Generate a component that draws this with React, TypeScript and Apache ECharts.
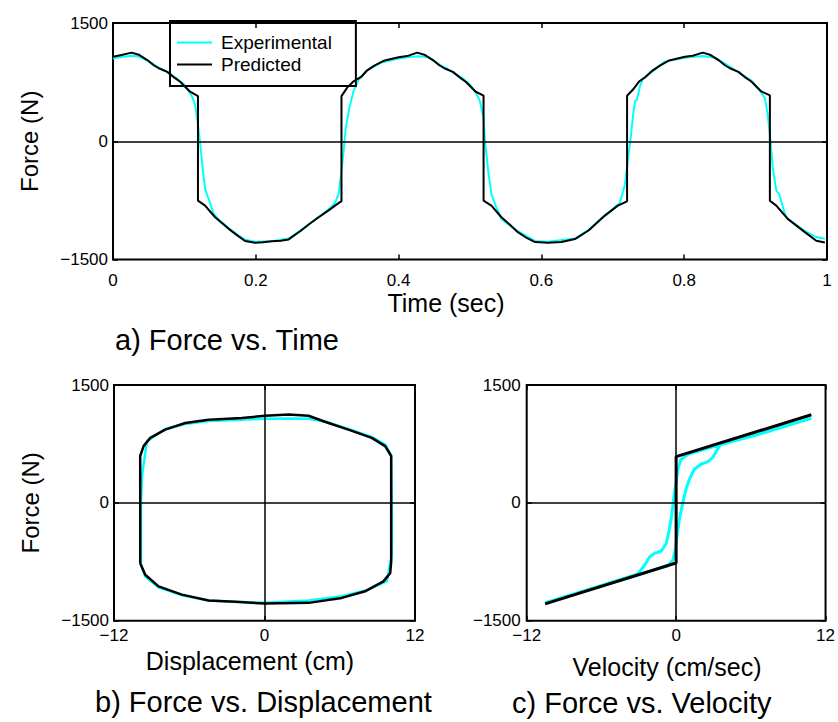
import React, { useEffect, useRef } from "react";
import * as echarts from "echarts";

const FONT = '"Liberation Sans", Arial, Helvetica, sans-serif';

// ---- a) Force vs. Time ----
const predTime = [0, 0.012, 0.026, 0.036, 0.048, 0.057, 0.064, 0.076, 0.087, 0.094, 0.108, 0.119, 0.119, 0.129, 0.143, 0.162, 0.175, 0.185, 0.199, 0.21, 0.222, 0.235, 0.246, 0.263, 0.275, 0.288, 0.3, 0.311, 0.32, 0.32, 0.328, 0.337, 0.348, 0.356, 0.366, 0.379, 0.4, 0.412, 0.426, 0.436, 0.448, 0.457, 0.464, 0.476, 0.487, 0.494, 0.508, 0.519, 0.519, 0.53, 0.544, 0.556, 0.567, 0.58, 0.591, 0.609, 0.628, 0.647, 0.666, 0.689, 0.707, 0.72, 0.72, 0.728, 0.737, 0.745, 0.756, 0.766, 0.779, 0.801, 0.812, 0.826, 0.836, 0.848, 0.857, 0.864, 0.876, 0.887, 0.894, 0.908, 0.92, 0.92, 0.929, 0.945, 0.969, 0.985, 0.997];
const predForceT = [1073, 1095, 1124, 1098, 1030, 964, 926, 880, 800, 754, 628, 573, -754, -817, -964, -1111, -1200, -1266, -1287, -1280, -1268, -1262, -1245, -1136, -1050, -964, -890, -817, -760, 573, 680, 760, 821, 900, 960, 1020, 1065, 1080, 1124, 1098, 1030, 964, 926, 880, 800, 754, 628, 578, -754, -817, -964, -1060, -1153, -1230, -1279, -1287, -1278, -1241, -1132, -943, -817, -762, 578, 653, 760, 809, 900, 960, 1025, 1073, 1085, 1124, 1098, 1030, 964, 926, 880, 800, 758, 632, 582, -754, -817, -985, -1153, -1262, -1283];

const expTime = [0, 0.012, 0.026, 0.036, 0.048, 0.057, 0.064, 0.076, 0.087, 0.094, 0.1, 0.106, 0.111, 0.115, 0.119, 0.122, 0.125, 0.129, 0.134, 0.141, 0.15, 0.162, 0.175, 0.185, 0.199, 0.222, 0.246, 0.263, 0.288, 0.305, 0.311, 0.316, 0.319, 0.323, 0.326, 0.331, 0.337, 0.344, 0.356, 0.376, 0.4, 0.415, 0.428, 0.442, 0.457, 0.465, 0.488, 0.5, 0.508, 0.514, 0.519, 0.521, 0.526, 0.53, 0.537, 0.544, 0.556, 0.567, 0.591, 0.609, 0.647, 0.666, 0.689, 0.7, 0.71, 0.717, 0.7215, 0.725, 0.7285, 0.731, 0.734, 0.738, 0.7425, 0.756, 0.773, 0.801, 0.826, 0.843, 0.866, 0.894, 0.906, 0.913, 0.917, 0.921, 0.924, 0.929, 0.933, 0.941, 0.945, 0.969, 0.985, 0.997];
const expForceT = [1052, 1070, 1085, 1075, 1025, 975, 935, 880, 810, 760, 715, 640, 560, 464, 212, -19, -292, -607, -733, -922, -1010, -1100, -1190, -1250, -1275, -1268, -1235, -1130, -960, -840, -780, -670, -460, -124, 170, 422, 640, 780, 900, 1000, 1050, 1070, 1078, 1065, 975, 935, 810, 720, 620, 506, 296, 0, -418, -670, -838, -985, -1070, -1140, -1265, -1275, -1235, -1125, -935, -860, -780, -544, -208, 44, 338, 506, 531, 695, 800, 890, 1010, 1060, 1080, 1060, 935, 770, 640, 548, 338, 0, -334, -627, -670, -922, -985, -1140, -1215, -1237];

// ---- b) Force vs. Displacement ----
const predDisp = [-9.91, -9.91, -9.64, -9.11, -7.92, -6.32, -4.46, -1.81, 0.05, 1.91, 3.51, 5.1, 6.69, 8.55, 9.62, 10.1, 10.1, 10.02, 9.48, 8.02, 6.16, 3.51, 0.05, -2.34, -4.46, -6.59, -8.45, -9.51, -9.91];
const predForceD = [-769, 596, 722, 827, 932, 1016, 1058, 1079, 1109, 1126, 1109, 1016, 932, 827, 722, 596, -756, -895, -1000, -1126, -1210, -1273, -1281, -1260, -1243, -1168, -1063, -916, -769];
const expDisp = [-9.85, -9.85, -9.77, -9.37, -7.92, -6.32, -4.46, -1.81, 0.05, 1.91, 3.51, 5.1, 6.69, 8.55, 9.62, 10.1, 10.15, 10.15, 9.75, 8.02, 6.16, 3.51, 0.05, -2.34, -4.46, -6.59, -8.45, -9.51, -9.85];
const expForceD = [-790, 0, 344, 785, 941, 1004, 1042, 1058, 1071, 1075, 1071, 1025, 941, 840, 743, 605, 0, -664, -1000, -1117, -1189, -1243, -1273, -1260, -1243, -1176, -1075, -937, -790];

// ---- c) Force vs. Velocity ----
const predVel = [-10.52, -0.08, 0, 0, 10.86];
const predForceV = [-1285, -769, -769, 588, 1121];
const expVel = [10.86, 8.88, 6.23, 3.58, 2.0, 1.0, 0.4, 0.13, 0, -0.13, -0.24, -0.4, -0.58, -0.8, -1.19, -1.72, -2.12, -2.52, -2.92, -3.18, -6.95, -10.52, -6.95, -3.18, -1.72, -0.66, -0.26, -0.08, 0.08, 0.27, 0.53, 0.8, 1.07, 1.46, 1.99, 2.52, 2.92, 3.32, 3.58, 6.23, 8.88, 10.86];
const expForceV = [1075, 980, 852, 743, 670, 620, 554, 428, 260, 134, 0, -202, -370, -517, -613, -643, -685, -790, -874, -912, -1100, -1272, -1105, -925, -853, -800, -727, -601, -412, -202, 0, 176, 302, 428, 491, 521, 575, 680, 743, 858, 982, 1078];

const timeTicks = { min: 0, max: 1, interval: 0.2 };
const forceTicks = { min: -1500, max: 1500, interval: 1500 };
const sideTicks = { min: -12, max: 12, interval: 12 };

const zip = (xs: number[], ys: number[]) => xs.map((x, i) => [x, ys[i]]);
const minus = (v: number) => String(v).replace("-", "\u2212");

const CYAN = "#00FFFF";
const BLACK = "#000000";

const grids = [
  { left: 113, top: 23, width: 714, height: 236.5 },
  { left: 114, top: 385, width: 301, height: 235.7 },
  { left: 526.7, top: 385, width: 301.3, height: 235.7 },
];

function tickAxis(gridIndex: number, ticks: any, position: string, showLabel: boolean, labelMargin: number, extra: any = {}) {
  return {
    gridIndex,
    type: "value",
    position,
    min: ticks.min,
    max: ticks.max,
    interval: ticks.interval,
    axisLine: { show: false, onZero: false },
    axisTick: { show: true, inside: true, length: 5, lineStyle: { color: BLACK, width: 1.5 } },
    axisLabel: {
      show: showLabel,
      fontFamily: FONT,
      fontSize: 17,
      color: BLACK,
      margin: labelMargin,
      formatter: minus,
    },
    splitLine: { show: false },
    ...extra,
  };
}

export default function App() {
  const ref = useRef<HTMLDivElement>(null);
  useEffect(() => {
    if (!ref.current) return;
    const chart = echarts.init(ref.current, null, { renderer: "svg" });
    const yName = {
      name: "Force (N)",
      nameLocation: "middle",
      nameGap: 72,
      nameTextStyle: { fontFamily: FONT, fontSize: 24, color: BLACK },
    };
    const zeroLines = (data: any[]) => ({
      silent: true,
      symbol: ["none", "none"],
      label: { show: false },
      lineStyle: { color: BLACK, width: 1.5, type: "solid" },
      data,
    });
    const lineSeries = (name: string, color: string, width: number, axis: number, data: number[][], z: number, markLine?: any) => ({
      type: "line",
      name,
      xAxisIndex: axis,
      yAxisIndex: axis,
      data,
      color,
      symbol: "none",
      showSymbol: false,
      lineStyle: { color, width },
      z,
      ...(markLine ? { markLine } : {}),
    });
    const option: any = {
      animation: false,
      backgroundColor: "#ffffff",
      grid: grids.map((g) => ({ ...g, show: true, borderColor: BLACK, borderWidth: 2, backgroundColor: "transparent" })),
      xAxis: [
        tickAxis(0, timeTicks, "bottom", true, 12),
        tickAxis(0, timeTicks, "top", false, 8),
        tickAxis(1, sideTicks, "bottom", true, 6),
        tickAxis(1, sideTicks, "top", false, 8),
        tickAxis(2, sideTicks, "bottom", true, 6),
        tickAxis(2, sideTicks, "top", false, 8),
      ],
      yAxis: [
        tickAxis(0, forceTicks, "left", true, 5, yName),
        tickAxis(0, forceTicks, "right", false, 8),
        tickAxis(1, forceTicks, "left", true, 5, yName),
        tickAxis(1, forceTicks, "right", false, 8),
        tickAxis(2, forceTicks, "left", true, 6),
        tickAxis(2, forceTicks, "right", false, 8),
      ],
      legend: {
        left: 170,
        top: 21,
        orient: "vertical",
        borderColor: BLACK,
        borderWidth: 2,
        borderRadius: 0,
        padding: [12, 24, 12, 7],
        itemGap: 3,
        itemWidth: 35,
        itemHeight: 2,
        icon: "rect",
        selectedMode: false,
        textStyle: { fontFamily: FONT, fontSize: 19, color: BLACK, padding: [0, 0, 0, 4] },
        data: ["Experimental", "Predicted"],
      },
      graphic: [
        { type: "text", x: 446, y: 303, style: { text: "Time (sec)", font: `25px ${FONT}`, fill: BLACK, textAlign: "center", textVerticalAlign: "middle" } },
        { type: "text", x: 115, y: 340, style: { text: "a) Force vs. Time", font: `29px ${FONT}`, fill: BLACK, textAlign: "left", textVerticalAlign: "middle" } },
        { type: "text", x: 250, y: 661, style: { text: "Displacement (cm)", font: `25px ${FONT}`, fill: BLACK, textAlign: "center", textVerticalAlign: "middle" } },
        { type: "text", x: 667, y: 667, style: { text: "Velocity (cm/sec)", font: `25px ${FONT}`, fill: BLACK, textAlign: "center", textVerticalAlign: "middle" } },
        { type: "text", x: 95, y: 702, style: { text: "b) Force vs. Displacement", font: `29px ${FONT}`, fill: BLACK, textAlign: "left", textVerticalAlign: "middle" } },
        { type: "text", x: 512, y: 703, style: { text: "c) Force vs. Velocity", font: `29px ${FONT}`, fill: BLACK, textAlign: "left", textVerticalAlign: "middle" } },
      ],
      series: [
        lineSeries("Experimental", CYAN, 2, 0, zip(expTime, expForceT), 2),
        lineSeries("Predicted", BLACK, 2, 0, zip(predTime, predForceT), 3, zeroLines([{ yAxis: 0 }])),
        lineSeries("Experimental", CYAN, 2.5, 2, zip(expDisp, expForceD), 2),
        lineSeries("Predicted", BLACK, 2.5, 2, zip(predDisp, predForceD), 3, zeroLines([{ yAxis: 0 }, { xAxis: 0 }])),
        lineSeries("Experimental", CYAN, 3, 4, zip(expVel, expForceV), 2),
        lineSeries("Predicted", BLACK, 3, 4, zip(predVel, predForceV), 3, zeroLines([{ yAxis: 0 }, { xAxis: 0 }])),
      ],
    };
    chart.setOption(option);
    return () => chart.dispose();
  }, []);
  return <div ref={ref} style={{ position: "absolute", left: 0, top: 0, width: 838, height: 722 }} />;
}
